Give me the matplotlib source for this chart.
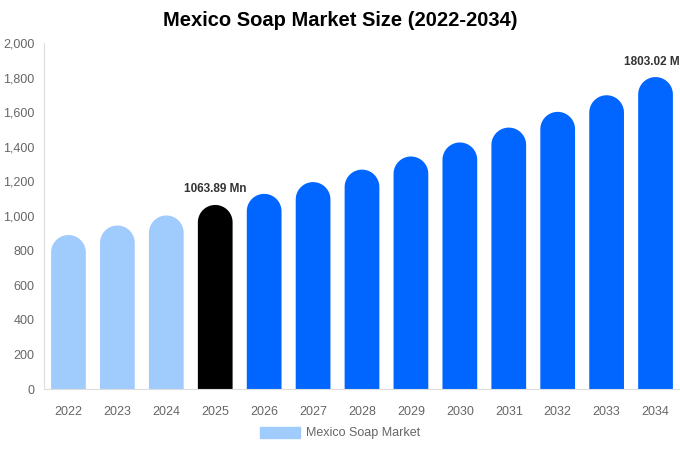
import matplotlib
matplotlib.use("Agg")
import numpy as np
import matplotlib.pyplot as plt
from matplotlib.patches import Polygon, Patch

plt.rcParams['font.family'] = ['Liberation Sans', 'DejaVu Sans']

years = ['2022', '2023', '2024', '2025', '2026', '2027', '2028',
         '2029', '2030', '2031', '2032', '2033', '2034']
values = [890, 945, 1003, 1063.89, 1128, 1196, 1268,
          1344, 1425, 1511, 1602, 1698, 1803.02]
colors = ['#a0cbfd'] * 3 + ['#000000'] + ['#0066ff'] * 9
labels = {3: '1063.89 Mn', 12: '1803.02 Mn'}

fig = plt.figure(figsize=(6.8, 4.5), dpi=100)
ax = fig.add_axes([44 / 680, 1 - 389 / 450, 636 / 680, 346 / 450])

ymax = 2000
bw = 0.71
# cap height in data units so the top looks like a half circle
ax_h_px = 346
ax_w_px = 636
cap_r_px = bw * ax_w_px / len(years) / 2
cap_h = cap_r_px / ax_h_px * ymax
t = np.linspace(0, np.pi, 40)

for i, (v, c) in enumerate(zip(values, colors)):
    base = v - cap_h
    arc_x = i + bw / 2 * np.cos(t)
    arc_y = base + cap_h * np.sin(t)
    xs = np.concatenate([[i - bw / 2, i + bw / 2], arc_x])
    ys = np.concatenate([[0, 0], arc_y])
    ax.add_patch(Polygon(np.column_stack([xs, ys]), closed=True, color=c, lw=0))
    if i in labels:
        ax.text(i, v + 55, labels[i], ha='center', va='bottom',
                fontsize=8.5, fontweight='bold', color='#333333')

ax.set_xlim(-0.5, len(years) - 0.5)
ax.set_ylim(0, ymax)
ax.set_xticks(range(len(years)))
ax.set_xticklabels(years)
ax.set_yticks(range(0, 2001, 200))
ax.set_yticklabels([f'{t:,}' for t in range(0, 2001, 200)])
ax.tick_params(length=0, labelsize=9, colors='#666666')
ax.tick_params(axis='x', pad=12)
ax.tick_params(axis='y', pad=7)
for s in ['top', 'right']:
    ax.spines[s].set_visible(False)
for s in ['left', 'bottom']:
    ax.spines[s].set_color('#dddddd')
    ax.spines[s].set_linewidth(0.8)

fig.text(0.5, 1 - 21 / 450, 'Mexico Soap Market Size (2022-2034)',
         ha='center', va='center', fontsize=14.5, fontweight='bold', color='#000000')

handle = Patch(color='#a0cbfd', label='Mexico Soap Market')
fig.legend(handles=[handle], loc='center', bbox_to_anchor=(0.5, 1 - 433 / 450),
           frameon=False, fontsize=9, handlelength=3.2, handleheight=1.0,
           handletextpad=0.5, labelcolor='#666666')

fig.savefig('out.png', dpi=100)
